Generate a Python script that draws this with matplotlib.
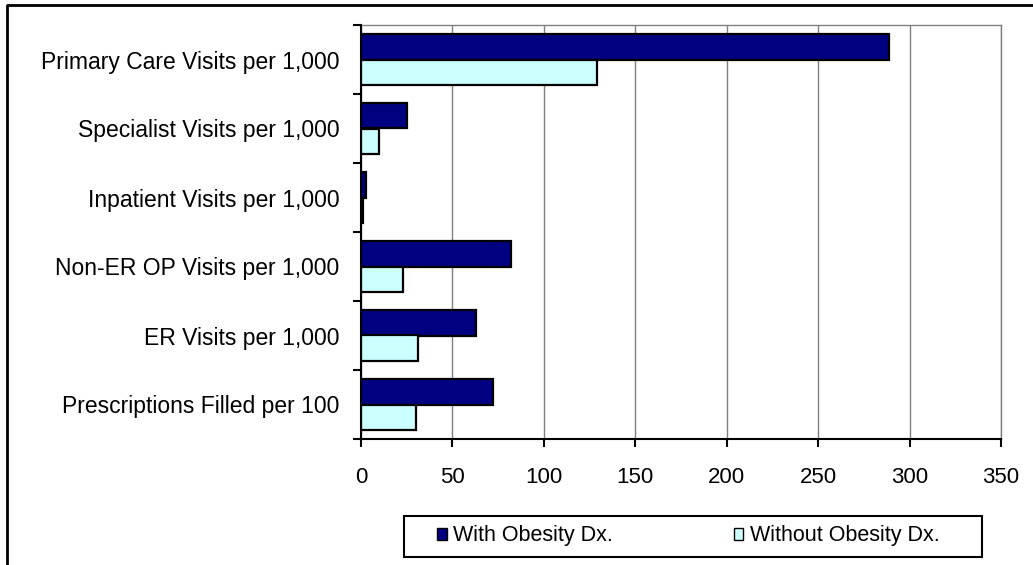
import matplotlib.pyplot as plt
import numpy as np
from matplotlib.lines import Line2D
from matplotlib.patches import Patch, Rectangle

categories = [
    "Primary Care Visits per 1,000",
    "Specialist Visits per 1,000",
    "Inpatient Visits per 1,000",
    "Non-ER OP Visits per 1,000",
    "ER Visits per 1,000",
    "Prescriptions Filled per 100",
]
with_obesity = [289, 25, 3, 82, 63, 72]
without_obesity = [129, 10, 1, 23, 31, 30]
xticks = [0, 50, 100, 150, 200, 250, 300, 350]

plt.rcParams["font.family"] = ["Liberation Sans", "DejaVu Sans"]

W, H = 1033, 565
fig = plt.figure(figsize=(W / 100, H / 100), dpi=100)
ax = fig.add_axes([361 / W, 1 - 439 / H, 640 / W, 414 / H])

y = np.arange(len(categories))
bw = 0.37
ax.barh(y - bw / 2, with_obesity, height=bw, color="#000080",
        edgecolor="black", linewidth=1.6, zorder=3)
ax.barh(y + bw / 2, without_obesity, height=bw, color="#CCFFFF",
        edgecolor="black", linewidth=1.6, zorder=3)

ax.set_xlim(0, 350)
ax.set_ylim(len(categories) - 0.5, -0.5)
ax.set_xticks(xticks)
ax.set_xticklabels([str(v) for v in xticks], fontsize=16)
ax.set_yticks(y)
ax.set_yticklabels(categories, fontsize=16.5)
ax.tick_params(axis="y", length=0, pad=15.5)
ax.set_yticks(np.arange(len(categories) + 1) - 0.5, minor=True)
ax.tick_params(axis="y", which="minor", length=6, width=1.5, direction="out")
ax.tick_params(axis="x", length=6, width=1.5, direction="out", pad=14)

ax.grid(axis="x", color="#808080", linewidth=1, zorder=0)
for s in ["top", "right"]:
    ax.spines[s].set_color("#808080")
    ax.spines[s].set_linewidth(1)
for s in ["left", "bottom"]:
    ax.spines[s].set_color("black")
    ax.spines[s].set_linewidth(1.5)
    ax.spines[s].set_zorder(4)

# outer frame (top and left only visible)
fig.add_artist(Line2D([7 / W, 7 / W, 1], [0, 1 - 5 / H, 1 - 5 / H],
                      transform=fig.transFigure, color="black", linewidth=2))

# legend box
fig.add_artist(Rectangle((404 / W, 1 - 557 / H), 578 / W, 41 / H,
                         transform=fig.transFigure, fill=False,
                         edgecolor="black", linewidth=1.5))
handles = [
    Patch(facecolor="#000080", edgecolor="black", linewidth=1),
    Patch(facecolor="#CCFFFF", edgecolor="black", linewidth=1),
]
fig.legend(handles, ["With Obesity Dx.", "Without Obesity Dx."],
           loc="center left", bbox_to_anchor=(437 / W, 1 - 536 / H),
           ncol=2, frameon=False, fontsize=15.5, handlelength=0.45,
           handleheight=0.45, handletextpad=0.3, columnspacing=5.6,
           borderpad=0, borderaxespad=0)

fig.savefig("out.png", dpi=100)
